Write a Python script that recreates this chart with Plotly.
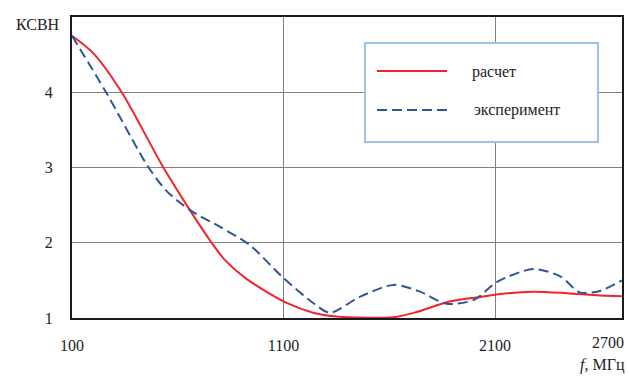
import plotly.graph_objects as go

# Data
freq_calc = [100, 200, 335, 530, 665, 760, 820, 925, 1115, 1240, 1350, 1620, 1730, 1885, 2030, 2125, 2280, 2440, 2595, 2700]
vswr_calc = [4.75, 4.52, 4.0, 3.01, 2.40, 2.0, 1.78, 1.52, 1.20, 1.07, 1.02, 1.01, 1.08, 1.22, 1.28, 1.32, 1.35, 1.33, 1.30, 1.29]

freq_exp = [100, 265, 460, 550, 660, 800, 940, 1100, 1240, 1320, 1460, 1620, 1745, 1870, 2000, 2110, 2280, 2410, 2500, 2595, 2700]
vswr_exp = [4.75, 3.98, 3.01, 2.68, 2.43, 2.21, 1.97, 1.53, 1.20, 1.07, 1.28, 1.44, 1.35, 1.19, 1.24, 1.48, 1.65, 1.55, 1.34, 1.36, 1.50]

x_ticks = [100, 1100, 2100]
x_ticktext = ["100", "1100", "2100"]
x_last_tick = 2700
y_ticks = [1, 2, 3, 4]

series_names = ["расчет", "эксперимент"]
RED = "#F5222D"
BLUE = "#2F5597"
FONT = "'Liberation Serif', 'Times New Roman', 'DejaVu Serif', serif"
TXT = "#222222"

fig = go.Figure()
fig.add_trace(go.Scatter(x=freq_calc, y=vswr_calc, mode="lines", name=series_names[0],
                         line=dict(color=RED, width=2, shape="spline", smoothing=0.8)))
fig.add_trace(go.Scatter(x=freq_exp, y=vswr_exp, mode="lines", name=series_names[1],
                         line=dict(color=BLUE, width=2, dash="10px,5px", shape="spline", smoothing=0.8)))

fig.update_layout(
    width=629, height=379,
    margin=dict(l=72, r=7, t=17, b=61, autoexpand=False),
    plot_bgcolor="white", paper_bgcolor="white",
    showlegend=False,
    font=dict(family=FONT, size=16, color=TXT),
    xaxis=dict(range=[100, 2700], tickvals=x_ticks, ticktext=x_ticktext,
               showgrid=True, gridcolor="#808080", gridwidth=1,
               showline=True, linecolor="#1a1a1a", linewidth=2, mirror=True,
               ticks="", zeroline=False, ticklabelstandoff=12,
               ticklabeloverflow="allow", automargin=False),
    yaxis=dict(range=[1, 5], tickvals=y_ticks,
               showgrid=True, gridcolor="#808080", gridwidth=1,
               showline=True, linecolor="#1a1a1a", linewidth=2, mirror=True,
               ticks="", zeroline=False, ticklabelstandoff=14, automargin=False),
)

# Last x tick label, right-aligned to the plot edge
fig.add_annotation(text=str(x_last_tick), xref="x", yref="paper", x=x_last_tick, y=0,
                   xanchor="right", yanchor="top", xshift=3, yshift=-15, showarrow=False,
                   borderpad=0, font=dict(family=FONT, size=16, color=TXT))

# Axis titles
fig.add_annotation(text="КСВН", xref="paper", yref="paper", x=-0.018, y=1.0,
                   xanchor="right", yanchor="bottom", yshift=-18, showarrow=False,
                   font=dict(family=FONT, size=16, color=TXT))
fig.add_annotation(text="<i>f</i>, МГц", xref="paper", yref="paper", x=1.0, y=0,
                   xanchor="right", yanchor="top", yshift=-37, xshift=4, showarrow=False,
                   borderpad=0, font=dict(family=FONT, size=16, color=TXT))

# Legend box (drawn)
fig.add_shape(type="rect", xref="paper", yref="paper",
              x0=(365 - 72) / 550, x1=(598 - 72) / 550,
              y0=(318 - 142) / 301, y1=(318 - 43) / 301,
              line=dict(color="#9DC3E6", width=2), fillcolor="white", layer="above")
fig.add_shape(type="line", xref="paper", yref="paper",
              x0=(377 - 72) / 550, x1=(447 - 72) / 550,
              y0=(318 - 71) / 301, y1=(318 - 71) / 301,
              line=dict(color=RED, width=2), layer="above")
fig.add_shape(type="line", xref="paper", yref="paper",
              x0=(377 - 72) / 550, x1=(447 - 72) / 550,
              y0=(318 - 110) / 301, y1=(318 - 110) / 301,
              line=dict(color=BLUE, width=2, dash="10px,5px"), layer="above")
fig.add_annotation(text=series_names[0], xref="paper", yref="paper",
                   x=(470 - 72) / 550, y=(318 - 72) / 301, xanchor="left", yanchor="middle",
                   showarrow=False, font=dict(family=FONT, size=16, color=TXT))
fig.add_annotation(text=series_names[1], xref="paper", yref="paper",
                   x=(472 - 72) / 550, y=(318 - 110) / 301, xanchor="left", yanchor="middle",
                   showarrow=False, font=dict(family=FONT, size=16, color=TXT))

fig.write_html("out.html")
